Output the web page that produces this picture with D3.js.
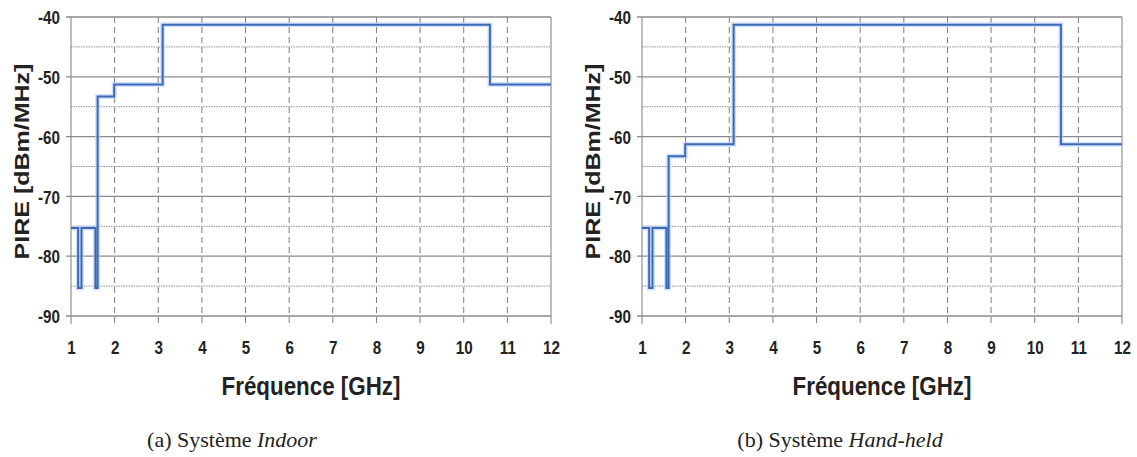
<!DOCTYPE html>
<html><head><meta charset="utf-8">
<script src="https://cdn.jsdelivr.net/npm/d3@7"></script>
<style>body{margin:0;background:#fff}svg{display:block}</style>
</head><body>
<svg id="c" width="1137" height="457"></svg>
<script>
// ---- data ----
const freqEdges = [1, 1.164, 1.24, 1.559, 1.61, 1.99, 3.1, 10.6, 12];
const indoorLevels = [-75.3, -85.3, -75.3, -85.3, -53.3, -51.3, -41.3, -51.3];
const handheldLevels = [-75.3, -85.3, -75.3, -85.3, -63.3, -61.3, -41.3, -61.3];
const xTicks = [1,2,3,4,5,6,7,8,9,10,11,12];
const yTicks = [-40,-50,-60,-70,-80,-90];
const yMinor = [-45,-55,-65,-75,-85];
const yLabel = "PIRE [dBm/MHz]";
const xLabel = "Fréquence [GHz]";
const captions = [["(a) Système ", "Indoor"], ["(b) Système ", "Hand-held"]];

const svg = d3.select("#c");
const sans = "'Liberation Sans', Arial, sans-serif";
const serif = "'Liberation Serif', 'Times New Roman', serif";

function panel(x0, levels, cap, capX) {
  const x = d3.scaleLinear().domain([1,12]).range([x0, x0+480]);
  const y = d3.scaleLinear().domain([-90,-40]).range([316, 17]);
  const g = svg.append("g");
  g.selectAll(".mn").data(yMinor).join("line")
    .attr("x1", x(1)).attr("x2", x(12)).attr("y1", d=>y(d)).attr("y2", d=>y(d))
    .attr("stroke", "#8f8f8f").attr("stroke-width", 1).attr("stroke-dasharray", "1.5,1");
  g.selectAll(".vg").data(xTicks).join("line")
    .attr("x1", d=>x(d)).attr("x2", d=>x(d)).attr("y1", y(-40)).attr("y2", y(-90)+8)
    .attr("stroke", "#7d7d7d").attr("stroke-width", 1)
    .attr("stroke-dasharray", d => (d===1||d===12) ? null : "6,4");
  g.selectAll(".mj").data(yTicks).join("line")
    .attr("x1", x(1)-5).attr("x2", x(12)).attr("y1", d=>y(d)).attr("y2", d=>y(d))
    .attr("stroke", "#8a8a8a").attr("stroke-width", 1.3);
  const ya = d3.axisLeft(y).tickValues(yTicks).tickSize(0).tickPadding(0).tickFormat(d => String(d));
  const yg = g.append("g").attr("transform", `translate(${x(1)-11},0)`).call(ya);
  yg.select(".domain").remove();
  yg.selectAll("text").attr("font-family", sans).attr("font-weight","bold")
    .attr("font-size", 19).attr("fill","#222").attr("dy", "0.35em")
    .attr("transform", "scale(0.8,1)").attr("text-anchor","end");
  const xa = d3.axisBottom(x).tickValues(xTicks).tickSize(0).tickPadding(0).tickFormat(d => String(d));
  const xg = g.append("g").attr("transform", `translate(0,${y(-90)+31})`).call(xa);
  xg.select(".domain").remove();
  xg.selectAll("text").attr("font-family", sans).attr("font-weight","bold")
    .attr("font-size", 19).attr("fill","#222").attr("dy","0.35em")
    .attr("transform", "scale(0.8,1)");
  const pts = levels.map((v,i)=>[freqEdges[i], v]);
  pts.push([freqEdges[freqEdges.length-1], levels[levels.length-1]]);
  const line = d3.line().x(d=>x(d[0])).y(d=>y(d[1])).curve(d3.curveStepAfter);
  g.append("path").attr("d", line(pts)).attr("fill","none")
    .attr("stroke","#b3cff3").attr("stroke-width",5).attr("stroke-opacity",0.6);
  g.append("path").attr("d", line(pts)).attr("fill","none")
    .attr("stroke","#3b69b8").attr("stroke-width",2);
  g.append("text").attr("transform", `translate(${x0-49},${(y(-40)+y(-90))/2 - 5}) rotate(-90) scale(1,0.82)`)
    .attr("text-anchor","middle").attr("dy","0.35em")
    .attr("font-family", sans).attr("font-weight","bold").attr("font-size", 25).attr("fill","#222")
    .text(yLabel);
  g.append("text").attr("transform", `translate(${(x(1)+x(12))/2},${y(-90)+79}) scale(0.86,1)`)
    .attr("text-anchor","middle")
    .attr("font-family", sans).attr("font-weight","bold").attr("font-size", 26).attr("fill","#222")
    .text(xLabel);
  const ct = g.append("text").attr("transform", `translate(${capX},447)`)
    .attr("text-anchor","middle")
    .attr("font-family", serif).attr("font-size", 22).attr("fill","#222");
  ct.append("tspan").text(cap[0]);
  ct.append("tspan").attr("font-style","italic").text(cap[1]);
}
panel(71, indoorLevels, captions[0], 232);
panel(642, handheldLevels, captions[1], 840);
</script>
</body></html>
